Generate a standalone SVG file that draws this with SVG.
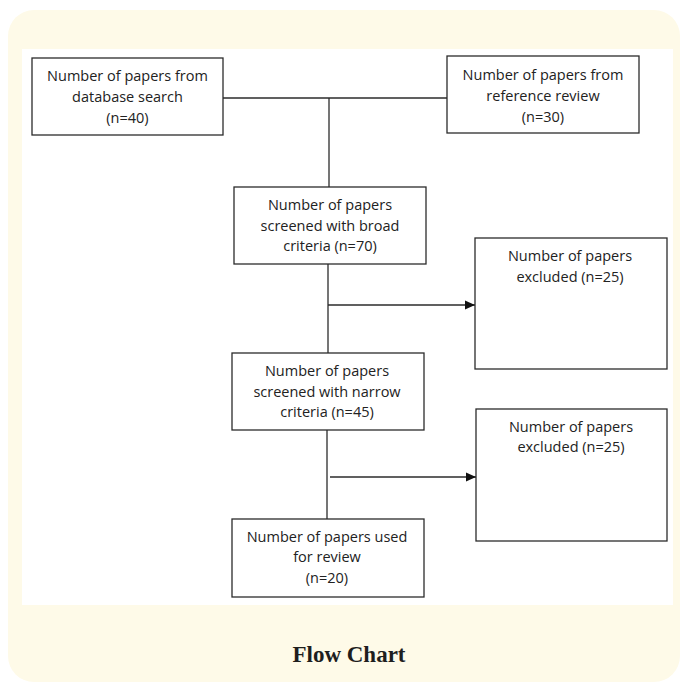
<svg xmlns="http://www.w3.org/2000/svg" width="680" height="683" viewBox="0 0 680 683">
<defs>
<style>
.box{fill:#fff;stroke:#2b2b2b;stroke-width:1.3}
.t{font-family:"Open Sans","Liberation Sans",sans-serif;font-size:14.5px;fill:#222;text-anchor:middle}
.ln{stroke:#2b2b2b;stroke-width:1.3;fill:none}
.cap{font-family:"Liberation Serif","DejaVu Serif",serif;font-size:23px;font-weight:bold;fill:#1e1e1e;text-anchor:middle}
</style>
<marker id="ah" markerWidth="11" markerHeight="11" refX="10" refY="5.5" orient="auto" markerUnits="userSpaceOnUse">
<path d="M0,1 L10,5.5 L0,10 Z" fill="#111"/>
</marker>
</defs>
<rect x="8" y="10" width="672" height="672" rx="26" fill="#fefae8"/>
<rect x="22" y="49" width="651" height="556" fill="#fff"/>
<g id="connectors">
<path class="ln" d="M223,98 H447"/>
<path class="ln" d="M329,98 V187"/>
<path class="ln" d="M328,264 V353"/>
<path class="ln" d="M328,305 H475" marker-end="url(#ah)"/>
<path class="ln" d="M327,430 V519"/>
<path class="ln" d="M330,477 H476" marker-end="url(#ah)"/>
</g>
<g id="n1">
<rect class="box" x="32" y="58" width="191" height="77"/>
<text class="t" x="127.5" y="81">Number of papers from</text>
<text class="t" x="127.5" y="102">database search</text>
<text class="t" x="127.5" y="123">(n=40)</text>
</g>
<g id="n2">
<rect class="box" x="447" y="56" width="192" height="77"/>
<text class="t" x="543" y="80">Number of papers from</text>
<text class="t" x="543" y="101">reference review</text>
<text class="t" x="543" y="122">(n=30)</text>
</g>
<g id="n3">
<rect class="box" x="234" y="187" width="192" height="77"/>
<text class="t" x="330" y="210">Number of papers</text>
<text class="t" x="330" y="231">screened with broad</text>
<text class="t" x="330" y="251">criteria (n=70)</text>
</g>
<g id="n4">
<rect class="box" x="475" y="238" width="192" height="131"/>
<text class="t" x="570" y="261">Number of papers</text>
<text class="t" x="570" y="282">excluded (n=25)</text>
</g>
<g id="n5">
<rect class="box" x="232" y="353" width="192" height="77"/>
<text class="t" x="327" y="376">Number of papers</text>
<text class="t" x="327" y="397">screened with narrow</text>
<text class="t" x="327" y="417">criteria (n=45)</text>
</g>
<g id="n6">
<rect class="box" x="476" y="409" width="191" height="132"/>
<text class="t" x="571" y="432">Number of papers</text>
<text class="t" x="571" y="452">excluded (n=25)</text>
</g>
<g id="n7">
<rect class="box" x="232" y="519" width="192" height="78"/>
<text class="t" x="327" y="542">Number of papers used</text>
<text class="t" x="327" y="562">for review</text>
<text class="t" x="327" y="583">(n=20)</text>
</g>
<text class="cap" x="349" y="662">Flow Chart</text>
</svg>
